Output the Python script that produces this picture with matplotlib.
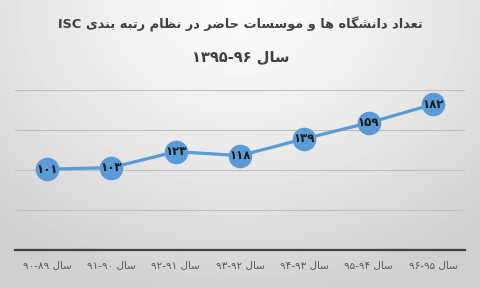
import numpy as np
import matplotlib
matplotlib.use("Agg")
import matplotlib.pyplot as plt

# data
periods = ["سال ۸۹-۹۰", "سال ۹۰-۹۱", "سال ۹۱-۹۲", "سال ۹۲-۹۳",
           "سال ۹۳-۹۴", "سال ۹۴-۹۵", "سال ۹۵-۹۶"]
counts = [101, 103, 123, 118, 139, 159, 182]
title1 = "تعداد دانشگاه ها و موسسات حاضر در نظام رتبه بندی ISC"
title2 = "سال ۹۶-۱۳۹۵"

# arabic presentation forms: isolated, final, initial, medial
forms = {
    "ا": (0xFE8D, 0xFE8E, None, None), "آ": (0xFE81, 0xFE82, None, None),
    "ب": (0xFE8F, 0xFE90, 0xFE91, 0xFE92), "پ": (0xFB56, 0xFB57, 0xFB58, 0xFB59),
    "ت": (0xFE95, 0xFE96, 0xFE97, 0xFE98), "ث": (0xFE99, 0xFE9A, 0xFE9B, 0xFE9C),
    "ج": (0xFE9D, 0xFE9E, 0xFE9F, 0xFEA0), "چ": (0xFB7A, 0xFB7B, 0xFB7C, 0xFB7D),
    "ح": (0xFEA1, 0xFEA2, 0xFEA3, 0xFEA4), "خ": (0xFEA5, 0xFEA6, 0xFEA7, 0xFEA8),
    "د": (0xFEA9, 0xFEAA, None, None), "ذ": (0xFEAB, 0xFEAC, None, None),
    "ر": (0xFEAD, 0xFEAE, None, None), "ز": (0xFEAF, 0xFEB0, None, None),
    "ژ": (0xFB8A, 0xFB8B, None, None),
    "س": (0xFEB1, 0xFEB2, 0xFEB3, 0xFEB4), "ش": (0xFEB5, 0xFEB6, 0xFEB7, 0xFEB8),
    "ص": (0xFEB9, 0xFEBA, 0xFEBB, 0xFEBC), "ض": (0xFEBD, 0xFEBE, 0xFEBF, 0xFEC0),
    "ط": (0xFEC1, 0xFEC2, 0xFEC3, 0xFEC4), "ظ": (0xFEC5, 0xFEC6, 0xFEC7, 0xFEC8),
    "ع": (0xFEC9, 0xFECA, 0xFECB, 0xFECC), "غ": (0xFECD, 0xFECE, 0xFECF, 0xFED0),
    "ف": (0xFED1, 0xFED2, 0xFED3, 0xFED4), "ق": (0xFED5, 0xFED6, 0xFED7, 0xFED8),
    "ک": (0xFB8E, 0xFB8F, 0xFB90, 0xFB91), "گ": (0xFB92, 0xFB93, 0xFB94, 0xFB95),
    "ل": (0xFEDD, 0xFEDE, 0xFEDF, 0xFEE0), "م": (0xFEE1, 0xFEE2, 0xFEE3, 0xFEE4),
    "ن": (0xFEE5, 0xFEE6, 0xFEE7, 0xFEE8), "و": (0xFEED, 0xFEEE, None, None),
    "ه": (0xFEE9, 0xFEEA, 0xFEEB, 0xFEEC), "ی": (0xFBFC, 0xFBFD, 0xFBFE, 0xFBFF),
}


def shape_word(w):
    out = []
    for i, c in enumerate(w):
        if c not in forms:
            out.append(c)
            continue
        prev = w[i - 1] if i > 0 else None
        nxt = w[i + 1] if i + 1 < len(w) else None
        f = forms[c]
        joins_prev = prev in forms and forms[prev][2] is not None
        joins_next = nxt in forms and f[2] is not None
        if joins_prev and joins_next:
            g = f[3]
        elif joins_prev:
            g = f[1]
        elif joins_next:
            g = f[2]
        else:
            g = f[0]
        out.append(chr(g))
    return "".join(out[::-1])


def rtl(s):
    words = []
    for w in s.split(" ")[::-1]:
        if any(c in forms for c in w):
            words.append(shape_word(w))
        elif "-" in w and not w.isascii():
            words.append("-".join(w.split("-")[::-1]))
        else:
            words.append(w)
    return " ".join(words)


def fa_num(n):
    return "".join(chr(0x06F0 + int(d)) for d in str(n))


fig = plt.figure(figsize=(4.81, 2.88), dpi=100)

# grey gradient background
bg = fig.add_axes([0, 0, 1, 1], zorder=-5)
yy, xx = np.mgrid[0:1:288j, 0:1:481j]
d = np.sqrt(((xx - 0.5) / 0.75) ** 2 + (yy / 1.05) ** 2)
shade = 0.985 - 0.17 * np.clip(d, 0, 1) ** 1.3
bg.imshow(shade, cmap="gray", vmin=0, vmax=1, aspect="auto", extent=[0, 1, 1, 0])
bg.axis("off")

ax = fig.add_axes([15 / 481, 1 - 250 / 288, 450 / 481, 160 / 288])
ax.patch.set_alpha(0)
x = np.arange(len(counts))
ax.plot(x, counts, color="#5b9bd5", lw=2.3, marker="o", ms=16,
        mfc="#5b9bd5", mec="#5b9bd5", zorder=3, clip_on=False)
for xi, v in zip(x, counts):
    ax.text(xi, v, fa_num(v), ha="center", va="center", fontsize=8.5,
            fontweight="bold", color="#1a1a1a", zorder=4)

ax.set_xlim(-0.5, len(counts) - 0.5)
ax.set_ylim(0, 200)
ax.set_yticks([50, 100, 150, 200])
ax.yaxis.grid(True, color="#bfbfbf", lw=0.8)
ax.tick_params(axis="y", left=False, labelleft=False)
ax.tick_params(axis="x", length=0, pad=7, labelsize=7.5, labelcolor="#595959")
ax.set_xticks(x)
ax.set_xticklabels([rtl(p) for p in periods])
for s in ["top", "left", "right"]:
    ax.spines[s].set_visible(False)
ax.spines["bottom"].set_color("#404040")
ax.spines["bottom"].set_linewidth(1.6)

fig.text(0.5, 1 - 24 / 288, rtl(title1), ha="center", va="center",
         fontsize=9.3, fontweight="bold", color="#404040")
fig.text(0.5, 1 - 57 / 288, rtl(title2), ha="center", va="center",
         fontsize=10.5, fontweight="bold", color="#404040")

fig.savefig("out.png", dpi=100)
